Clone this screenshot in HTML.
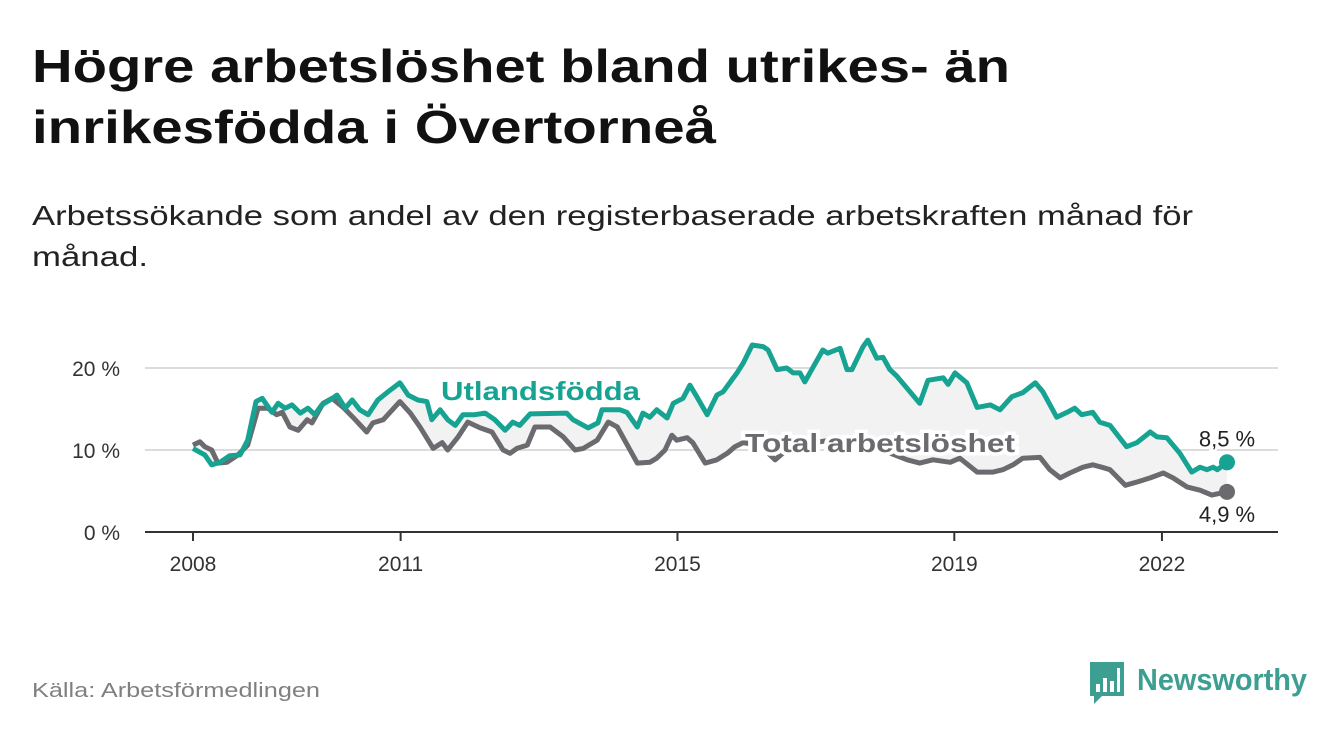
<!DOCTYPE html>
<html><head><meta charset="utf-8">
<style>
html,body{margin:0;padding:0;background:#fff;}
svg{display:block;font-family:"Liberation Sans",sans-serif;}
</style></head>
<body>
<svg id="chart" width="1340" height="734" viewBox="0 0 1340 734" xmlns="http://www.w3.org/2000/svg">
<text x="32" y="82" font-size="46" font-weight="bold" fill="#111" textLength="978" lengthAdjust="spacingAndGlyphs">Högre arbetslöshet bland utrikes- än</text>
<text x="32" y="143" font-size="46" font-weight="bold" fill="#111" textLength="684" lengthAdjust="spacingAndGlyphs">inrikesfödda i Övertorneå</text>
<text x="32" y="225" font-size="28" fill="#222" textLength="1161" lengthAdjust="spacingAndGlyphs">Arbetssökande som andel av den registerbaserade arbetskraften månad för</text>
<text x="32" y="266" font-size="28" fill="#222" textLength="116" lengthAdjust="spacingAndGlyphs">månad.</text>
<g id="grid"></g>
<path id="area" fill="#f2f2f3"></path>
<path id="line-total" fill="none" stroke="#6b6a6e" stroke-width="5" stroke-linejoin="round"></path>
<path id="line-utl" fill="none" stroke="#17a392" stroke-width="5" stroke-linejoin="round"></path>
<g id="axes"></g>
<g id="labels"></g>
<text x="32" y="697" font-size="20" fill="#808080" textLength="288" lengthAdjust="spacingAndGlyphs">Källa: Arbetsförmedlingen</text>
<g>
<path d="M1090 662 h34 v34 h-22 l-8 8 v-8 h-4 z" fill="#3d9e92"/>
<rect x="1096" y="684" width="4" height="8" fill="#fff"/><rect x="1103" y="678" width="4" height="14" fill="#fff"/><rect x="1110" y="681" width="4" height="11" fill="#fff"/><rect x="1117" y="668" width="3" height="24" fill="#fff"/>
<text x="1137" y="690" font-size="31" font-weight="bold" fill="#3d9e92" textLength="170" lengthAdjust="spacingAndGlyphs">Newsworthy</text>
</g>
</svg>
<script>
const utlYears=[0,0.17,0.27,0.39,0.53,0.68,0.79,0.91,1.00,1.14,1.23,1.33,1.43,1.55,1.66,1.76,1.86,1.98,2.08,2.20,2.30,2.41,2.53,2.67,2.85,2.99,3.11,3.25,3.38,3.45,3.57,3.68,3.79,3.90,4.07,4.22,4.36,4.51,4.62,4.72,4.87,5.40,5.49,5.71,5.85,5.91,6.17,6.27,6.42,6.50,6.60,6.70,6.85,6.94,7.08,7.18,7.28,7.43,7.57,7.66,7.86,7.95,8.08,8.24,8.31,8.44,8.58,8.67,8.77,8.84,8.96,9.10,9.17,9.35,9.45,9.52,9.68,9.75,9.88,9.97,10.07,10.17,10.50,10.62,10.84,10.91,11.01,11.18,11.33,11.52,11.66,11.83,11.99,12.17,12.28,12.48,12.63,12.74,12.84,13.00,13.10,13.25,13.49,13.64,13.83,13.93,14.07,14.26,14.43,14.55,14.65,14.74,14.80,14.94];
const utlValues=[10.2,9.4,8.2,8.5,9.3,9.4,11.2,15.9,16.3,14.6,15.7,15.1,15.5,14.5,15.1,14.3,15.5,16.1,16.7,15.1,16.1,14.9,14.3,16.1,17.3,18.2,16.7,16.1,15.9,13.7,14.9,13.7,13.0,14.3,14.3,14.5,13.7,12.4,13.4,13.0,14.4,14.5,13.7,12.7,13.3,14.9,14.9,14.6,12.8,14.5,14.0,14.9,13.9,15.7,16.3,17.9,16.5,14.3,16.7,17.1,19.4,20.6,22.8,22.6,22.2,19.8,20.0,19.4,19.4,18.3,20.1,22.2,21.8,22.4,19.8,19.8,22.6,23.4,21.2,21.3,19.8,19.0,15.7,18.5,18.8,18.0,19.4,18.2,15.2,15.5,14.9,16.5,17.0,18.2,17.1,14.0,14.6,15.1,14.3,14.6,13.4,13.0,10.4,10.9,12.2,11.6,11.5,9.6,7.3,7.9,7.6,7.9,7.6,8.5];
const totYears=[0,0.10,0.17,0.27,0.36,0.49,0.65,0.79,0.94,1.08,1.21,1.29,1.40,1.52,1.65,1.72,1.88,2.01,2.17,2.31,2.51,2.60,2.75,2.99,3.14,3.28,3.47,3.60,3.68,3.83,3.97,4.15,4.32,4.48,4.58,4.68,4.83,4.94,5.16,5.35,5.52,5.64,5.84,6.00,6.13,6.42,6.60,6.70,6.82,6.92,6.99,7.14,7.22,7.40,7.57,7.72,7.83,7.95,8.19,8.41,8.63,9.20,9.78,10.32,10.50,10.69,10.94,11.08,11.33,11.56,11.70,11.85,11.99,12.24,12.38,12.53,12.67,12.86,13.00,13.13,13.25,13.47,13.64,13.83,14.02,14.16,14.36,14.55,14.72,14.94];
const totValues=[10.6,11.0,10.4,10.0,8.4,8.5,9.4,10.6,15.1,15.1,14.3,14.6,12.8,12.4,13.7,13.3,15.7,16.3,15.2,14.0,12.2,13.3,13.7,15.9,14.5,12.8,10.2,10.9,10.0,11.6,13.4,12.7,12.2,10.0,9.6,10.2,10.6,12.8,12.8,11.6,10.0,10.2,11.2,13.4,12.8,8.4,8.5,9.0,10.0,11.8,11.2,11.5,10.9,8.4,8.8,9.6,10.4,10.9,10.6,8.8,10.4,11.2,10.6,8.8,8.4,8.8,8.5,9.0,7.3,7.3,7.6,8.2,9.0,9.1,7.6,6.6,7.2,7.9,8.2,7.9,7.6,5.7,6.1,6.6,7.2,6.6,5.5,5.1,4.5,4.9];
const yTicks=[0,10,20];
const yTickLabels=["0 %","10 %","20 %"];
const xTicks=[2008,2011,2015,2019,2022];
const endLabels=["8,5 %","4,9 %"];

const NS="http://www.w3.org/2000/svg";
const X=yr=>193+(yr-2008)*69.21;
const Xo=o=>X(2008+o);
const Y=v=>532-v*8.2;
function mk(tag,attrs,parent,text){const e=document.createElementNS(NS,tag);for(const k in attrs)e.setAttribute(k,attrs[k]);if(text!==undefined)e.textContent=text;parent.appendChild(e);return e;}
const grid=document.getElementById('grid'),axes=document.getElementById('axes'),labels=document.getElementById('labels');
yTicks.forEach((t,i)=>{
  if(t>0){const g=mk('line',{x1:145,x2:1278,y1:Y(t),y2:Y(t),stroke:'#dcdcdc','stroke-width':2},grid);
  
  }
  const l=mk('text',{x:120,y:Y(t)+8,'font-size':21,fill:'#333','text-anchor':'end'},axes,yTickLabels[i]);
  
  
});
const ax=mk('line',{x1:145,x2:1278,y1:532,y2:532,stroke:'#333','stroke-width':2},axes);


xTicks.forEach(t=>{
  const tk=mk('line',{x1:X(t),x2:X(t),y1:532,y2:541,stroke:'#333','stroke-width':2},axes);
  
  
  const l=mk('text',{x:X(t),y:571,'font-size':21,fill:'#333','text-anchor':'middle'},axes,String(t));
  
  
});
const pts=(ys,vs)=>ys.map((o,i)=>Xo(o).toFixed(1)+','+Y(vs[i]).toFixed(1));
const up=pts(utlYears,utlValues),tp=pts(totYears,totValues);
document.getElementById('line-utl').setAttribute('d','M'+up.join('L'));
document.getElementById('line-total').setAttribute('d','M'+tp.join('L'));
document.getElementById('area').setAttribute('d','M'+up.join('L')+'L'+tp.slice().reverse().join('L')+'Z');
const lu=utlYears.length-1,lt=totYears.length-1;
const d1=mk('circle',{cx:Xo(utlYears[lu]),cy:Y(utlValues[lu]),r:8,fill:'#17a392'},labels);


const d2=mk('circle',{cx:Xo(totYears[lt]),cy:Y(totValues[lt]),r:8,fill:'#6b6a6e'},labels);


const e1=mk('text',{x:Xo(utlYears[lu]),y:Y(utlValues[lu])-16,'font-size':22,fill:'#222','text-anchor':'middle',stroke:'#fff','stroke-width':5,'paint-order':'stroke'},labels,endLabels[0]);


const e2=mk('text',{x:Xo(totYears[lt]),y:Y(totValues[lt])+30,'font-size':22,fill:'#222','text-anchor':'middle',stroke:'#fff','stroke-width':5,'paint-order':'stroke'},labels,endLabels[1]);


const s1=mk('text',{x:441,y:400,'font-size':26,'font-weight':'bold',fill:'#17a392',stroke:'#fff','stroke-width':7,'paint-order':'stroke',textLength:199,lengthAdjust:'spacingAndGlyphs'},labels,'Utlandsfödda');


const s2=mk('text',{x:745,y:452,'font-size':26,'font-weight':'bold',fill:'#6b6a6e',stroke:'#fff','stroke-width':7,'paint-order':'stroke',textLength:270,lengthAdjust:'spacingAndGlyphs'},labels,'Total arbetslöshet');


</script>
</body></html>
